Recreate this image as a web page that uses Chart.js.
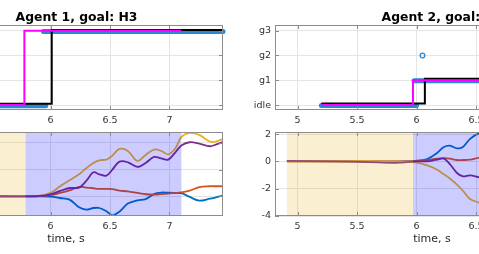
<!DOCTYPE html>
<html>
<head>
<meta charset="utf-8">
<script src="https://cdn.jsdelivr.net/npm/chart.js@4.4.1/dist/chart.umd.min.js"></script>
<style>
html, body { margin: 0; padding: 0; overflow: hidden; background: #fff; }
#wrap { position: relative; width: 479px; height: 254px; overflow: hidden; }
canvas { position: absolute; }
</style>
</head>
<body>
<div id="wrap">
  <canvas id="goal1" width="360" height="132" style="left:-131px; top:0px"></canvas>
  <canvas id="goal2" width="360" height="132" style="left:235px; top:0px"></canvas>
  <canvas id="state1" width="360" height="128" style="left:-131px; top:122px"></canvas>
  <canvas id="state2" width="360" height="128" style="left:235px; top:122px"></canvas>
</div>
<script>
// shared time axis
const xRange = [4.81, 7.45];
const xTicks = [5, 5.5, 6, 6.5, 7];

// goal axis (top row)
const goalLevels = ['idle', 'g1', 'g2', 'g3'];
const goalTicks = [0, 1, 2, 3];

// agent 1 goal traces
const a1BlackT = [4.95, 6.01, 7.45];
const a1BlackY = [0.05, 3.03, 3.03];
const a1PinkT = [4.95, 5.78, 7.1];
const a1PinkY = [0, 3, 3];
const a1DotsIdleT = [4.95, 5.96];
const a1DotsIdleY = [-0.03, -0.03];
const a1DotsGoalT = [5.94, 7.45];
const a1DotsGoalY = [2.97, 2.97];

// agent 2 goal traces
const a2BlackT = [5.2, 6.07, 7.45];
const a2BlackY = [0.06, 1.06, 1.06];
const a2PinkT = [5.2, 5.97, 7.45];
const a2PinkY = [0, 1, 1];
const a2DotsIdleT = [5.2, 6.0];
const a2DotsIdleY = [-0.02, -0.02];
const a2DotsGoalT = [5.98, 7.45];
const a2DotsGoalY = [0.98, 0.98];
const a2StrayT = [6.05];
const a2StrayY = [2];

// agent 1 states (bottom left)
const tA1 = [4.91, 5.6, 5.9, 6.0, 6.08, 6.16, 6.24, 6.3, 6.36, 6.41, 6.47, 6.52, 6.58, 6.65, 6.73, 6.8, 6.87, 6.93, 6.99, 7.05, 7.1, 7.17, 7.25, 7.34, 7.39, 7.45];
const a1Blue   = [0, 0, -0.01, -0.03, -0.13, -0.25, -0.83, -1.0, -0.88, -0.88, -1.13, -1.43, -1.15, -0.55, -0.3, -0.22, 0.17, 0.28, 0.27, 0.25, 0.23, -0.05, -0.33, -0.18, -0.08, 0.05];
const a1Orange = [0, 0, 0.02, 0.08, 0.25, 0.45, 0.7, 0.65, 0.6, 0.55, 0.55, 0.53, 0.42, 0.37, 0.25, 0.15, 0.12, 0.16, 0.2, 0.25, 0.3, 0.42, 0.68, 0.75, 0.75, 0.75];
const a1Yellow = [0, 0, 0.02, 0.25, 0.75, 1.2, 1.65, 2.1, 2.5, 2.7, 2.75, 3.05, 3.55, 3.4, 2.65, 3.1, 3.5, 3.4, 3.15, 3.6, 4.45, 4.75, 4.6, 4.1, 4.1, 4.3];
const a1Purple = [0, 0, 0.02, 0.15, 0.4, 0.62, 0.65, 1.15, 1.8, 1.65, 1.55, 2.0, 2.6, 2.55, 2.2, 2.5, 2.95, 2.85, 2.75, 3.3, 3.8, 4.05, 3.95, 3.75, 3.88, 4.08];
const a1YRange = [-1.48, 4.82];
const a1YTicks = [0, 2, 4];
const a1Phases = [[4.91, 5.79], [5.79, 7.1]];

// agent 2 states (bottom right)
const tA2 = [4.91, 5.3, 5.6, 5.8, 5.9, 5.99, 6.09, 6.17, 6.23, 6.28, 6.34, 6.39, 6.45, 6.53, 6.6];
const a2Blue   = [0, 0, 0, 0, 0.01, 0.03, 0.17, 0.6, 1.05, 1.15, 0.95, 1.05, 1.65, 2.07, 2.12];
const a2Orange = [0, 0, 0, 0, 0, 0.02, 0.1, 0.2, 0.23, 0.2, 0.1, 0.1, 0.12, 0.27, 0.3];
const a2Yellow = [0, 0, -0.01, -0.02, -0.03, -0.07, -0.29, -0.6, -0.95, -1.25, -1.7, -2.15, -2.75, -3.05, -3.4];
const a2Purple = [0.03, 0, -0.05, -0.1, -0.08, 0, 0, 0.12, 0.2, -0.2, -0.85, -1.1, -1.02, -1.17, -1.2];
const a2YRange = [-4, 2.15];
const a2YTicks = [-4, -2, 0, 2];
const a2Phases = [[4.91, 5.97], [5.97, 7.45]];

const FONT = 'DejaVu Sans';
const tickColor = '#333';
const gridColor = '#e4e4e4';
const boxColor = '#8c8c8c';
const dotBlue = '#2b87d2';
const phaseColors = ['rgba(237,177,32,0.2)', 'rgba(0,0,255,0.2)'];

const pts = (t, y) => t.map((v, i) => ({ x: v, y: y[i] }));

// box, inward ticks, phase patches and the bold title, MATLAB style
const boxPlugin = {
    id: 'box',
    afterDatasetsDraw(chart, args, opts) {
        const { ctx, chartArea: a, scales: { x } } = chart;
        (opts.phases || []).forEach((p, i) => {
            const x0 = x.getPixelForValue(p[0]);
            const x1 = x.getPixelForValue(p[1]);
            ctx.save();
            ctx.fillStyle = phaseColors[i];
            ctx.fillRect(x0, a.top, x1 - x0, a.bottom - a.top);
            ctx.restore();
        });
    },
    afterDraw(chart, args, opts) {
        const { ctx, chartArea: a, scales: { x, y } } = chart;
        ctx.save();
        ctx.strokeStyle = boxColor;
        ctx.lineWidth = 1;
        ctx.strokeRect(a.left + 0.5, a.top + 0.5, a.right - a.left - 1, a.bottom - a.top - 1);
        ctx.beginPath();
        x.ticks.forEach(t => {
            const p = Math.round(x.getPixelForValue(t.value)) + 0.5;
            ctx.moveTo(p, a.bottom); ctx.lineTo(p, a.bottom - 4);
            ctx.moveTo(p, a.top); ctx.lineTo(p, a.top + 4);
        });
        y.ticks.forEach(t => {
            const p = Math.round(y.getPixelForValue(t.value)) + 0.5;
            ctx.moveTo(a.left, p); ctx.lineTo(a.left + 4, p);
            ctx.moveTo(a.right, p); ctx.lineTo(a.right - 4, p);
        });
        ctx.stroke();
        if (opts.title) {
            ctx.font = 'bold 12.4px "' + FONT + '"';
            ctx.fillStyle = '#000';
            ctx.textAlign = 'center';
            ctx.textBaseline = 'alphabetic';
            ctx.fillText(opts.title, (a.left + a.right) / 2 + 10.5, 20.7);
        }
        ctx.restore();
    }
};

const makeChart = (id, datasets, yMin, yMax, yTicks, yLabel, xHeight, padTop, box, xTitle) => {
    new Chart(document.getElementById(id), {
        type: 'line',
        data: { datasets },
        plugins: [boxPlugin],
        options: {
            responsive: false,
            animation: false,
            devicePixelRatio: 1,
            layout: { padding: { top: padTop, right: 6, bottom: 0, left: 0 } },
            plugins: { legend: { display: false }, tooltip: { enabled: false }, box },
            scales: {
                x: {
                    type: 'linear',
                    min: xRange[0],
                    max: xRange[1],
                    afterBuildTicks: s => { s.ticks = xTicks.map(v => ({ value: v })); },
                    afterFit: s => { s.height = xHeight; },
                    grid: { color: gridColor, drawTicks: false },
                    border: { display: false },
                    ticks: {
                        font: { family: FONT, size: 9.5 },
                        color: tickColor,
                        padding: 5,
                        maxRotation: 0,
                        autoSkip: false,
                        callback: v => String(v)
                    },
                    title: {
                        display: !!xTitle,
                        text: xTitle || '',
                        font: { family: FONT, size: 11 },
                        color: '#262626',
                        padding: { top: 0, bottom: 4 }
                    }
                },
                y: {
                    type: 'linear',
                    min: yMin,
                    max: yMax,
                    afterBuildTicks: s => { s.ticks = yTicks.map(v => ({ value: v })); },
                    afterFit: s => { s.width = 40; },
                    grid: { color: gridColor, drawTicks: false },
                    border: { display: false },
                    ticks: {
                        font: { family: FONT, size: 9.5 },
                        color: tickColor,
                        padding: 4,
                        autoSkip: false,
                        callback: v => yLabel ? yLabel[v] : String(v)
                    }
                }
            }
        }
    });
};

// stepped goal lines, dots drawn as a thick band
const goalSets = (blackT, blackY, pinkT, pinkY, idleT, idleY, goalT, goalY, strayT, strayY) => {
    const band = data => ({
        data, borderColor: dotBlue, borderWidth: 5, borderCapStyle: 'round',
        pointRadius: 0, clip: 4
    });
    const sets = [
        { data: pts(pinkT, pinkY), borderColor: '#ff00ff', borderWidth: 2, stepped: true, pointRadius: 0 },
        { data: pts(blackT, blackY), borderColor: '#000', borderWidth: 2, stepped: true, pointRadius: 0 },
        band(pts(idleT, idleY)),
        band(pts(goalT, goalY))
    ];
    if (strayT) {
        sets.push({
            data: pts(strayT, strayY), showLine: false, pointRadius: 2.3, pointStyle: 'circle',
            pointBorderColor: dotBlue, pointBackgroundColor: 'rgba(0,0,0,0)', pointBorderWidth: 1.3
        });
    }
    return sets;
};

// purple on top, then yellow, orange, blue
const stateSets = (t, blue, orange, yellow, purple) => [
    ['#7e2f8e', purple], ['#edb120', yellow], ['#d95319', orange], ['#0072bd', blue]
].map(([c, v]) => ({ data: pts(t, v), borderColor: c, borderWidth: 1.8, tension: 0.35, pointRadius: 0 }));

makeChart('goal1',
    goalSets(a1BlackT, a1BlackY, a1PinkT, a1PinkY, a1DotsIdleT, a1DotsIdleY, a1DotsGoalT, a1DotsGoalY),
    -0.2, 3.23, goalTicks, goalLevels, 22, 25, { title: 'Agent 1, goal: H3' });
makeChart('goal2',
    goalSets(a2BlackT, a2BlackY, a2PinkT, a2PinkY, a2DotsIdleT, a2DotsIdleY, a2DotsGoalT, a2DotsGoalY, a2StrayT, a2StrayY),
    -0.2, 3.23, goalTicks, goalLevels, 22, 25, { title: 'Agent 2, goal: H1' });
makeChart('state1', stateSets(tA1, a1Blue, a1Orange, a1Yellow, a1Purple),
    a1YRange[0], a1YRange[1], a1YTicks, null, 34, 10, { phases: a1Phases }, 'time, s');
makeChart('state2', stateSets(tA2, a2Blue, a2Orange, a2Yellow, a2Purple),
    a2YRange[0], a2YRange[1], a2YTicks, null, 34, 10, { phases: a2Phases }, 'time, s');
</script>
</body>
</html>
